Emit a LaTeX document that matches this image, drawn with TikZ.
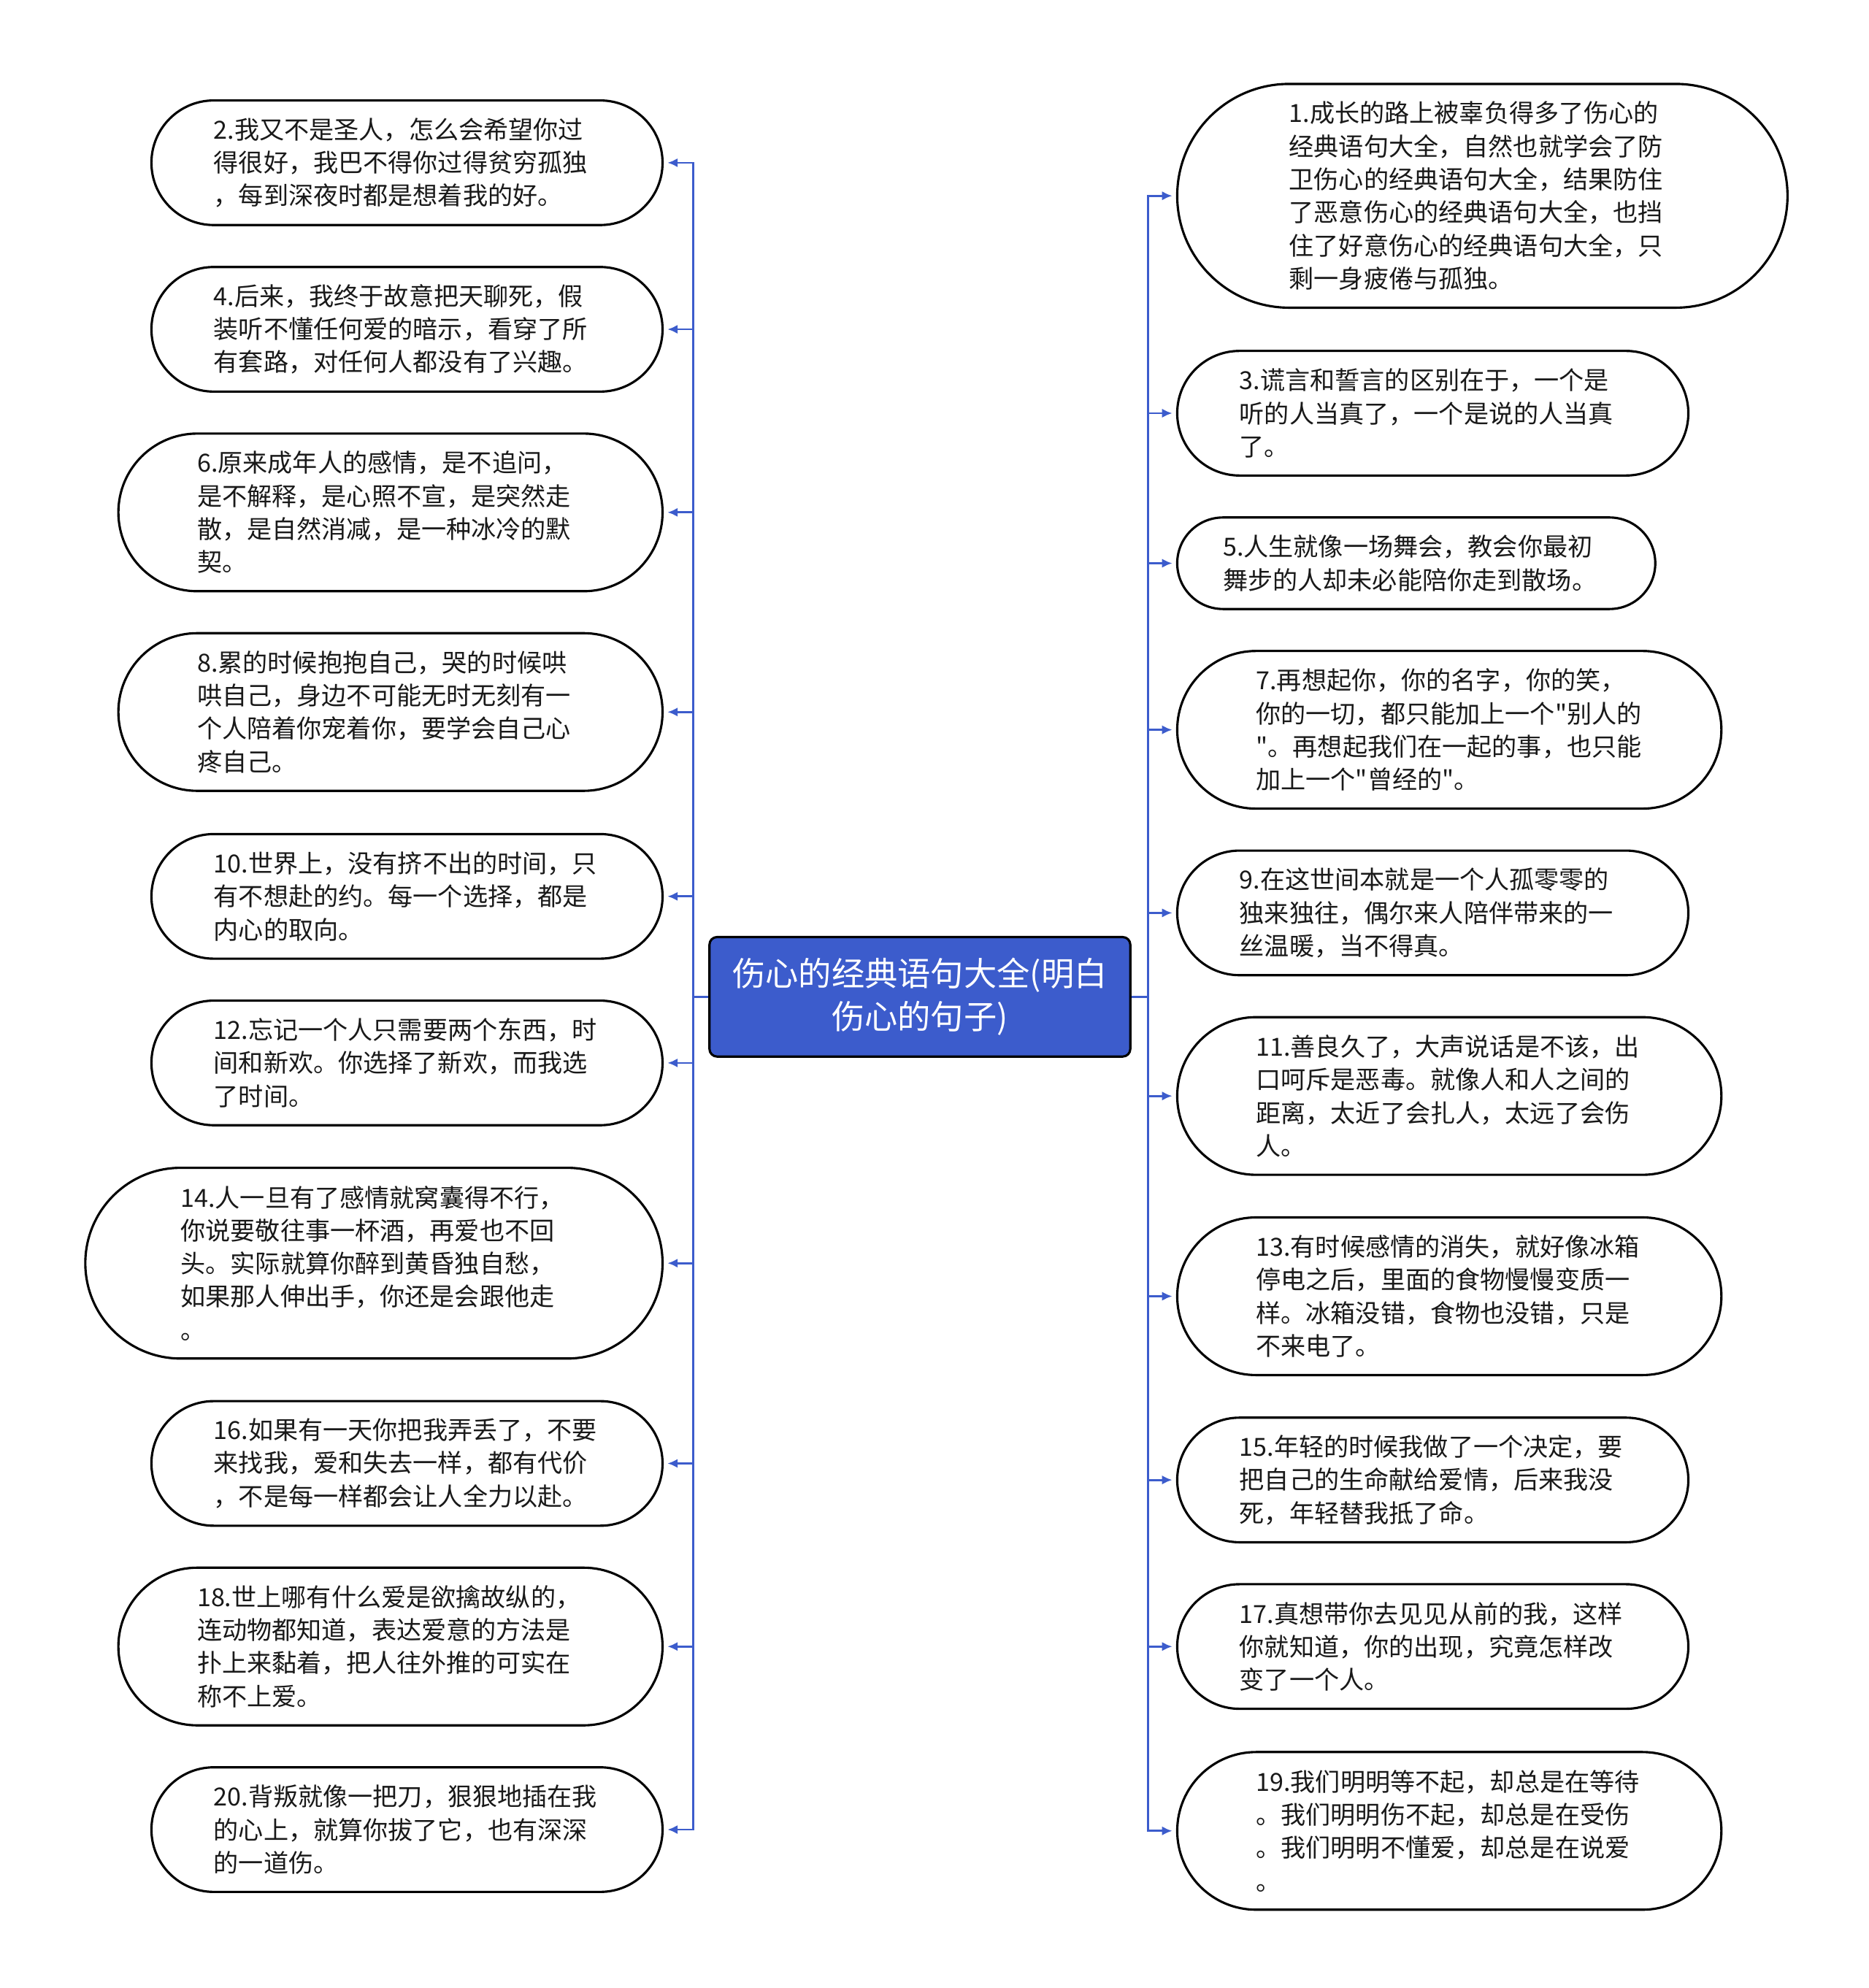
\documentclass[tikz,border=0pt]{standalone}
\usepackage{fontspec}
\newfontfamily\cjk{Noto Sans CJK SC}
\usetikzlibrary{arrows.meta, shapes.misc}
\definecolor{treeblue}{RGB}{60,92,204}

\begin{document}
\begin{tikzpicture}[x=0.5pt, y=0.5pt, >={Latex[length=4pt,width=3.6pt]},
	leaf/.style={rounded rectangle, draw=black, line width=0.9pt, fill=white, text width=152pt, align=left, inner xsep=0.5pt, inner ysep=2pt, minimum height={(10+13*#1)*1pt}, minimum width={(163+13*#1)*1pt}, font=\cjk\fontsize{9.8pt}{13pt}\selectfont, text=black!90},
	root/.style={rectangle, rounded corners=3pt, draw=black, line width=0.9pt, fill=treeblue, text=white, align=center, minimum width=165.5pt, minimum height=47pt, font=\cjk\fontsize{13pt}{17pt}\selectfont},
	link/.style={->, draw=treeblue, line width=0.8pt, shorten >=1.5pt}]
				\useasboundingbox (0,0) rectangle (1470,-1563.6);
				\fill[white] (0,0) rectangle (1470,-1563.6);
				
				\node[root]					at (723.5,-784)		(root)	{伤心的经典语句大全(明白\\伤心的句子)};
				
				% left column
				\node[leaf=3, anchor=east]	at (522,-128)		(s2)	{2.我又不是圣人，怎么会希望你过\\得很好，我巴不得你过得贫穷孤独\\，每到深夜时都是想着我的好。};
				\node[leaf=3, anchor=east]	at (522,-259)		(s4)	{4.后来，我终于故意把天聊死，假\\装听不懂任何爱的暗示，看穿了所\\有套路，对任何人都没有了兴趣。};
				\node[leaf=4, anchor=east]	at (522,-403)		(s6)	{6.原来成年人的感情，是不追问，\\是不解释，是心照不宣，是突然走\\散，是自然消减，是一种冰冷的默\\契。};
				\node[leaf=4, anchor=east]	at (522,-560)		(s8)	{8.累的时候抱抱自己，哭的时候哄\\哄自己，身边不可能无时无刻有一\\个人陪着你宠着你，要学会自己心\\疼自己。};
				\node[leaf=3, anchor=east]	at (522,-705)		(s10)	{10.世界上，没有挤不出的时间，只\\有不想赴的约。每一个选择，都是\\内心的取向。};
				\node[leaf=3, anchor=east]	at (522,-836)		(s12)	{12.忘记一个人只需要两个东西，时\\间和新欢。你选择了新欢，而我选\\了时间。};
				\node[leaf=5, anchor=east]	at (522,-993.5)		(s14)	{14.人一旦有了感情就窝囊得不行，\\你说要敬往事一杯酒，再爱也不回\\头。实际就算你醉到黄昏独自愁，\\如果那人伸出手，你还是会跟他走\\。};
				\node[leaf=3, anchor=east]	at (522,-1151)		(s16)	{16.如果有一天你把我弄丢了，不要\\来找我，爱和失去一样，都有代价\\，不是每一样都会让人全力以赴。};
				\node[leaf=4, anchor=east]	at (522,-1295)		(s18)	{18.世上哪有什么爱是欲擒故纵的，\\连动物都知道，表达爱意的方法是\\扑上来黏着，把人往外推的可实在\\称不上爱。};
				\node[leaf=3, anchor=east]	at (522,-1439)		(s20)	{20.背叛就像一把刀，狠狠地插在我\\的心上，就算你拔了它，也有深深\\的一道伤。};
				
				% right column
				\node[leaf=6, anchor=west]	at (925,-154)		(s1)	{1.成长的路上被辜负得多了伤心的\\经典语句大全，自然也就学会了防\\卫伤心的经典语句大全，结果防住\\了恶意伤心的经典语句大全，也挡\\住了好意伤心的经典语句大全，只\\剩一身疲倦与孤独。};
				\node[leaf=3, anchor=west]	at (925,-325)		(s3)	{3.谎言和誓言的区别在于，一个是\\听的人当真了，一个是说的人当真\\了。};
				\node[leaf=2, anchor=west]	at (925,-443)		(s5)	{5.人生就像一场舞会，教会你最初\\舞步的人却未必能陪你走到散场。};
				\node[leaf=4, anchor=west]	at (925,-574)		(s7)	{7.再想起你，你的名字，你的笑，\\你的一切，都只能加上一个"别人的\\"。再想起我们在一起的事，也只能\\加上一个"曾经的"。};
				\node[leaf=3, anchor=west]	at (925,-718)		(s9)	{9.在这世间本就是一个人孤零零的\\独来独往，偶尔来人陪伴带来的一\\丝温暖，当不得真。};
				\node[leaf=4, anchor=west]	at (925,-862)		(s11)	{11.善良久了，大声说话是不该，出\\口呵斥是恶毒。就像人和人之间的\\距离，太近了会扎人，太远了会伤\\人。};
				\node[leaf=4, anchor=west]	at (925,-1019.5)	(s13)	{13.有时候感情的消失，就好像冰箱\\停电之后，里面的食物慢慢变质一\\样。冰箱没错，食物也没错，只是\\不来电了。};
				\node[leaf=3, anchor=west]	at (925,-1164)		(s15)	{15.年轻的时候我做了一个决定，要\\把自己的生命献给爱情，后来我没\\死，年轻替我抵了命。};
				\node[leaf=3, anchor=west]	at (925,-1295)		(s17)	{17.真想带你去见见从前的我，这样\\你就知道，你的出现，究竟怎样改\\变了一个人。};
				\node[leaf=4, anchor=west]	at (925,-1440)		(s19)	{19.我们明明等不起，却总是在等待\\。我们明明伤不起，却总是在受伤\\。我们明明不懂爱，却总是在说爱\\。};
				
				% connectors
				\draw[link] (root.west) -- ++(-6pt,0) |- (s2.east);
				\draw[link] (root.west) -- ++(-6pt,0) |- (s4.east);
				\draw[link] (root.west) -- ++(-6pt,0) |- (s6.east);
				\draw[link] (root.west) -- ++(-6pt,0) |- (s8.east);
				\draw[link] (root.west) -- ++(-6pt,0) |- (s10.east);
				\draw[link] (root.west) -- ++(-6pt,0) |- (s12.east);
				\draw[link] (root.west) -- ++(-6pt,0) |- (s14.east);
				\draw[link] (root.west) -- ++(-6pt,0) |- (s16.east);
				\draw[link] (root.west) -- ++(-6pt,0) |- (s18.east);
				\draw[link] (root.west) -- ++(-6pt,0) |- (s20.east);
				\draw[link] (root.east) -- ++(6.5pt,0) |- (s1.west);
				\draw[link] (root.east) -- ++(6.5pt,0) |- (s3.west);
				\draw[link] (root.east) -- ++(6.5pt,0) |- (s5.west);
				\draw[link] (root.east) -- ++(6.5pt,0) |- (s7.west);
				\draw[link] (root.east) -- ++(6.5pt,0) |- (s9.west);
				\draw[link] (root.east) -- ++(6.5pt,0) |- (s11.west);
				\draw[link] (root.east) -- ++(6.5pt,0) |- (s13.west);
				\draw[link] (root.east) -- ++(6.5pt,0) |- (s15.west);
				\draw[link] (root.east) -- ++(6.5pt,0) |- (s17.west);
				\draw[link] (root.east) -- ++(6.5pt,0) |- (s19.west);
\end{tikzpicture}
\end{document}
